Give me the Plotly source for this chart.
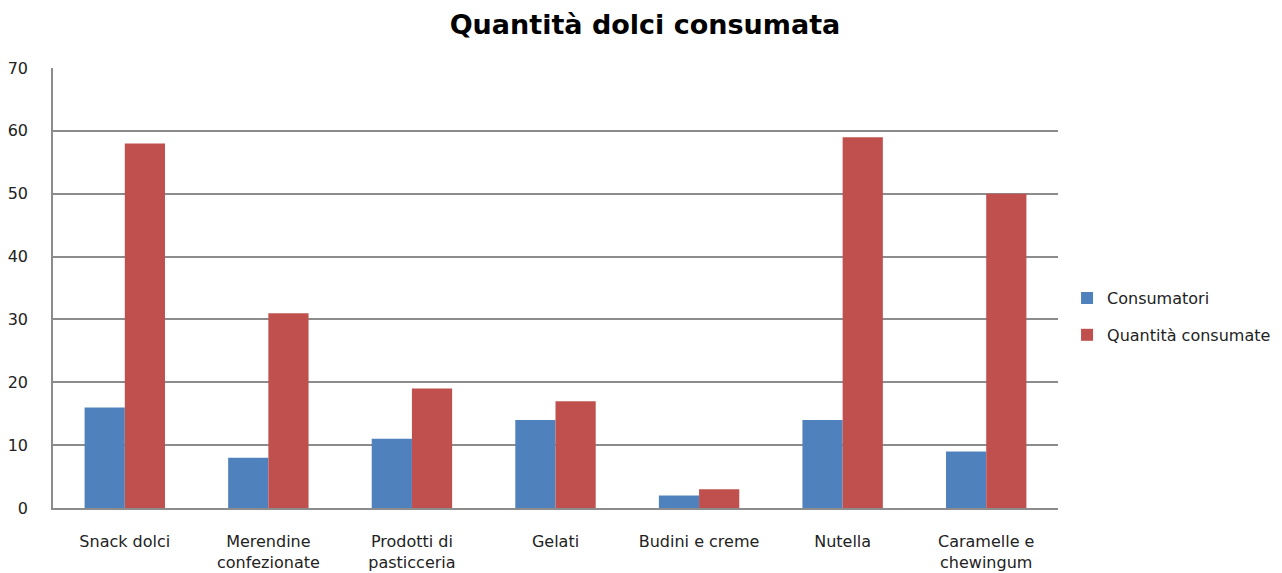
import plotly.graph_objects as go

categories = ["Snack dolci", "Merendine<br>confezionate", "Prodotti di<br>pasticceria", "Gelati",
              "Budini e creme", "Nutella", "Caramelle e<br>chewingum"]
consumatori = [16, 8, 11, 14, 2, 14, 9]
quantita = [58, 31, 19, 17, 3, 59, 50]
y_ticks = [0, 10, 20, 30, 40, 50, 60, 70]

FONT = "DejaVu Sans"

fig = go.Figure()
fig.add_trace(go.Bar(name="Consumatori", x=categories, y=consumatori, legendgroup="a",
                     marker=dict(color="#4F81BD", line=dict(width=0))))
fig.add_trace(go.Bar(name="Quantità consumate", x=categories, y=quantita, legendgroup="b",
                     marker=dict(color="#C0504D", line=dict(width=0))))

fig.update_layout(
    width=1274, height=565,
    barmode="group", bargap=0.44, bargroupgap=0,
    paper_bgcolor="white", plot_bgcolor="white",
    margin=dict(l=45, r=224, t=60, b=65, autoexpand=False),
    title=dict(text="<b>Quantità dolci consumata</b>", x=0.5, xanchor="center",
               y=0.97, yanchor="middle",
               font=dict(family=FONT, size=27, color="black")),
    font=dict(family=FONT, size=16, color="#222222"),
    legend=dict(x=1.009, y=0.435, xanchor="left", yanchor="middle",
                font=dict(family=FONT, size=16, color="#222222"),
                tracegroupgap=13, itemwidth=30, bgcolor="rgba(0,0,0,0)"),
    showlegend=True,
)
fig.update_yaxes(range=[0, 70], tickvals=y_ticks, showgrid=True, gridcolor="#8C8C8C",
                 gridwidth=1.5, showline=True, linecolor="#8C8C8C", linewidth=1.5,
                 zeroline=False, ticks="", ticklabelstandoff=20, automargin=False,
                 tickfont=dict(family=FONT, size=16, color="#222222"))
fig.update_xaxes(showline=True, linecolor="#8C8C8C", linewidth=1.5, ticks="",
                 showgrid=False, tickfont=dict(family=FONT, size=16, color="#222222"),
                 ticklabelstandoff=18, automargin=False)

fig.write_html("out.html")
